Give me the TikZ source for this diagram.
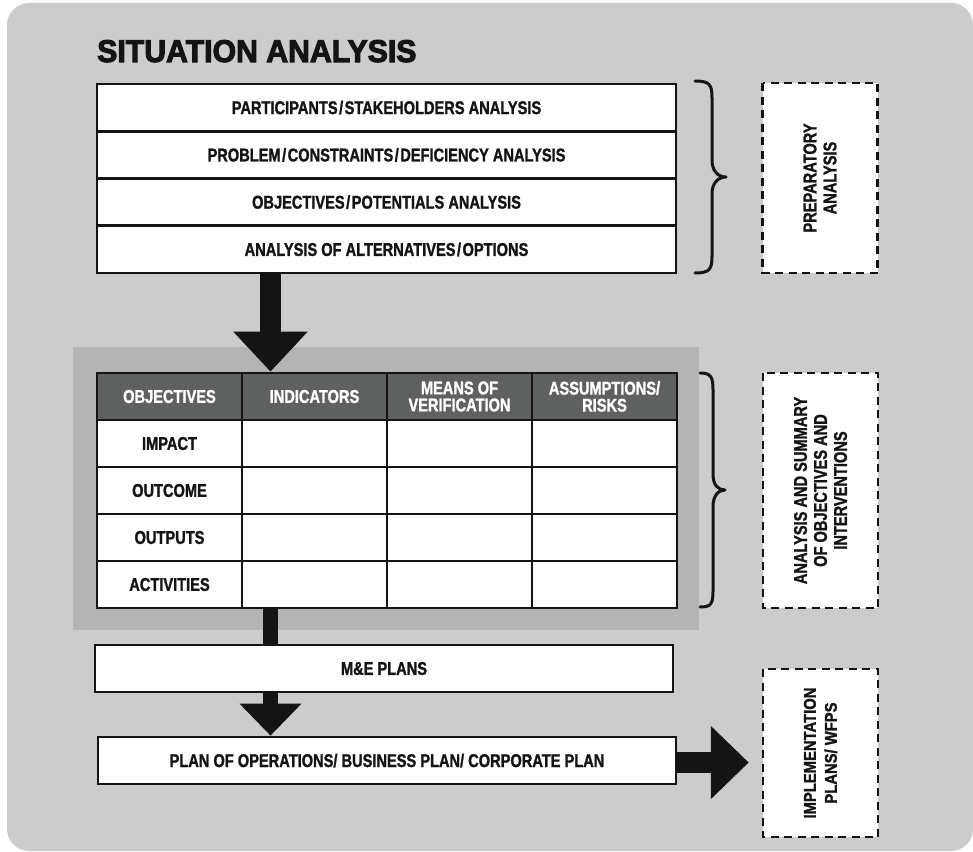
\documentclass[tikz,border=0pt]{standalone}
\usepackage{fontspec}
\setmainfont{Liberation Sans}
\newfontfamily\condfont{Liberation Sans}[FakeStretch=0.79,FakeBold=1.3]
\newfontfamily\headfont{Liberation Sans}[FakeStretch=0.96,FakeBold=3.2]
\newfontfamily\widefont{Liberation Sans}[FakeStretch=0.87,FakeBold=1.6]
\usetikzlibrary{arrows.meta,calc}

\definecolor{ink}{HTML}{141414}
\definecolor{bgc}{HTML}{CBCCCB}
\definecolor{panelc}{HTML}{B3B4B3}
\definecolor{headc}{HTML}{5F6160}

% slash with a little air on both sides
\newcommand\slsh{\kern1.5pt/\kern1.5pt}

\tikzset{
  condtext/.style={font=\condfont\bfseries\fontsize{18.5}{17}\selectfont},
  rowbox/.style={draw=ink, line width=2.7pt, fill=white, inner sep=0pt,
    minimum width=579pt, minimum height=47.25pt, text=ink, condtext},
  cell/.style={draw=ink, line width=2.7pt, fill=white, inner sep=0pt,
    minimum width=145pt, minimum height=47pt, text=ink, align=center, condtext},
  headcell/.style={cell, fill=headc, text=white},
  dashbox/.style={draw=ink, line width=2.5pt, dash pattern=on 8pt off 5.5pt,
    fill=white, inner sep=0pt, rotate=90, align=center, text=ink,
    font=\condfont\bfseries\fontsize{18.5}{20}\selectfont},
  bigarrow/.style={draw=ink, line width=#1, line cap=butt},
  brace/.style={draw=ink, line width=3pt, line cap=round, line join=round},
}

\begin{document}
\begin{tikzpicture}[x=1pt,y=-1pt]
\useasboundingbox (0,0) rectangle (973,851);

% background sheet and the shaded panel behind the logframe
\fill[bgc, rounded corners=22pt] (7,3) rectangle (973,851);
\fill[panelc] (73,347) rectangle (699,630);

% heading
\node[anchor=base west, inner sep=0pt, text=ink,
  font=\headfont\bfseries\fontsize{31.5}{33}\selectfont] (title) at (97,62) {SITUATION ANALYSIS};

% preparatory analysis steps
\node[rowbox] (r1) at (386.5,107.6) {PARTICIPANTS\slsh STAKEHOLDERS ANALYSIS};
\node[rowbox] (r2) at (386.5,154.9) {PROBLEM\slsh CONSTRAINTS\slsh DEFICIENCY ANALYSIS};
\node[rowbox] (r3) at (386.5,202.1) {OBJECTIVES\slsh POTENTIALS ANALYSIS};
\node[rowbox] (r4) at (386.5,249.4) {ANALYSIS OF ALTERNATIVES\slsh OPTIONS};

% logframe matrix
\node[headcell] (h1) at (169.5,396.5) {OBJECTIVES};
\node[headcell] (h2) at (314.5,396.5) {INDICATORS};
\node[headcell] (h3) at (459.5,396.5) {MEANS OF\\VERIFICATION};
\node[headcell] (h4) at (604.5,396.5) {ASSUMPTIONS/\\RISKS};
\foreach \lab [count=\r] in {IMPACT,OUTCOME,OUTPUTS,ACTIVITIES}{
  \node[cell] (c-\r-1) at (169.5,396.5+47*\r) {\lab};
  \foreach \c/\x in {2/314.5,3/459.5,4/604.5}
    \node[cell] (c-\r-\c) at (\x,396.5+47*\r) {};
}

% plans
\node[rowbox, minimum width=578pt, minimum height=47pt] (me) at (384,668.5) {M\&E PLANS};
\node[rowbox, minimum width=578pt, minimum height=47pt] (plan) at (387,760.5)
  {PLAN OF OPERATIONS/ BUSINESS PLAN/ CORPORATE PLAN};

% dashed summary boxes (rotated, so their north side faces left)
\node[dashbox, minimum width=190pt, minimum height=115pt] (box1) at (820,178) {PREPARATORY\\ANALYSIS};
\node[dashbox, minimum width=235pt, minimum height=115pt] (box2) at (820.5,490.5)
  {ANALYSIS AND SUMMARY\\OF OBJECTIVES AND\\INTERVENTIONS};
\node[dashbox, minimum width=168pt, minimum height=115pt,
  font=\widefont\bfseries\fontsize{17}{21}\selectfont] (box3) at (820.5,753)
  {IMPLEMENTATION\\PLANS/ WFPS};

% flow arrows
\coordinate (ax) at (270.5,0);
\draw[bigarrow=21pt, -{Triangle[length=40pt,width=72pt]}] (r4.south -| ax) -- (h2.north -| ax);
\draw[bigarrow=15pt] (c-4-2.south -| ax) -- (me.north -| ax);
\draw[bigarrow=15pt, -{Triangle[length=32pt,width=60pt]}] (me.south -| ax) -- (plan.north -| ax);
\draw[bigarrow=21pt, -{Triangle[length=38pt,width=71pt]}, shorten >=13pt]
  ($(plan.east)+(0,2)$) -- ($(plan.east -| box3.north)+(0,2)$);

% braces
\draw[brace] (695,81) .. controls (710,81) and (712,85) .. (712,98) -- (712,160)
  .. controls (712,171) and (718,177) .. (726,177)
  .. controls (718,177) and (712,183) .. (712,194) -- (712,256)
  .. controls (712,269) and (710,273) .. (695,273);
\draw[brace] (700,373) .. controls (711,373) and (713,377) .. (713,390) -- (713,474)
  .. controls (713,485) and (718,490) .. (725,490)
  .. controls (718,490) and (713,496) .. (713,507) -- (713,591)
  .. controls (713,604) and (711,607) .. (700,607);
\end{tikzpicture}
\end{document}
